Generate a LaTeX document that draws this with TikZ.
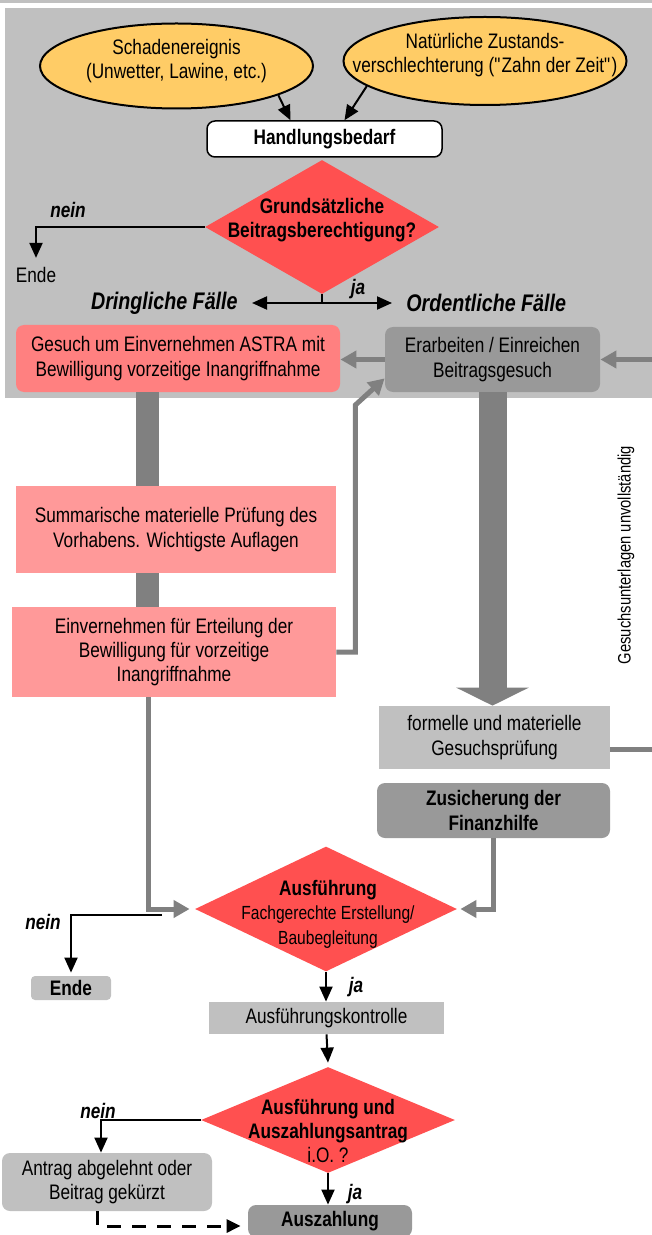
\documentclass[tikz,border=0pt]{standalone}
\usepackage{fontspec}
\setmainfont[FakeStretch=0.82]{Liberation Sans}
\usetikzlibrary{shapes.geometric,arrows.meta}

\definecolor{bggray}{HTML}{C0C0C0}
\definecolor{midgray}{HTML}{999999}
\definecolor{arrgray}{HTML}{808080}
\definecolor{ellcol}{HTML}{FFCC66}
\definecolor{diacol}{HTML}{FF5050}
\definecolor{redbox}{HTML}{FF8080}
\definecolor{pinkbox}{HTML}{FF9999}

\newcommand{\flowfont}{\fontsize{10.5}{12.2}\selectfont}
\newcommand{\smallflow}{\fontsize{9.5}{11.5}\selectfont}

\tikzset{
  ell/.style={ellipse, draw, line width=1pt, fill=ellcol, inner sep=0pt},
  box/.style={rectangle, inner sep=0pt, align=center},
  rbox/.style={box, rounded corners=4pt},
  dia/.style={diamond, fill=diacol, inner sep=0pt},
  txt/.style={align=center, inner sep=0pt},
  lbl/.style={font=\flowfont\bfseries\itshape, inner sep=0pt},
  arr/.style={line width=1pt, -{Triangle[length=7.5pt,width=6.5pt]}},
  garr/.style={draw=arrgray, line width=2.5pt, -{Triangle[length=8pt,width=8.5pt]}},
}

\begin{document}
\begin{tikzpicture}[x=0.5pt, y=-0.5pt, font=\flowfont]
      \useasboundingbox (0,0) rectangle (652,1235);
      \clip (0,0) rectangle (652,1235);
      \fill[bggray] (0,0) rectangle (652,3);
      \fill[bggray] (5,8) rectangle (652,398);

      \node[ell, minimum width=136.5pt, minimum height=42.5pt] (schaden) at (176.5,66) {};
      \node[txt] (schaden-t) at (176.5,61) {Schadenereignis\\(Unwetter, Lawine, etc.)};
      \node[ell, minimum width=141.5pt, minimum height=44pt] (zahn) at (485,61) {};
      \node[txt] (zahn-t) at (485,55) {Natürliche Zustands-\\verschlechterung (\textquotedbl Zahn der Zeit\textquotedbl)};
      \node[rbox, draw, line width=0.75pt, fill=white, minimum width=117.5pt, minimum height=18pt, font=\flowfont\bfseries] (bedarf) at (324.5,139) {Handlungsbedarf};

      \node[dia, minimum width=117pt, minimum height=67pt] (grund) at (322,227) {};
      \node[txt, font=\flowfont\bfseries] (grund-t) at (322,220) {Grundsätzliche\\Beitragsberechtigung?};
      \node[txt] (ende1) at (36,275) {Ende};
      \node[lbl] (nein1) at (68,210) {nein};
      \node[lbl] (ja1) at (358,289) {ja};
      \node[lbl, font=\fontsize{12}{14}\selectfont\bfseries\itshape, anchor=east, inner xsep=7pt] (dring) at (252,303) {Dringliche Fälle};
      \node[lbl, font=\fontsize{12}{14}\selectfont\bfseries\itshape, anchor=west, inner xsep=7pt] (ordent) at (392,303) {Ordentliche Fälle};

      \node[rbox, fill=redbox, minimum width=162pt, minimum height=33.5pt] (gesuch) at (178,358.5) {Gesuch um Einvernehmen ASTRA mit\\Bewilligung vorzeitige Inangriffnahme};
      \node[rbox, fill=midgray, minimum width=107.5pt, minimum height=32.5pt] (erarb) at (492.5,359.5) {Erarbeiten / Einreichen\\Beitragsgesuch};
      \node[box, fill=pinkbox, minimum width=162pt, minimum height=45pt] (einv) at (174,652) {Einvernehmen für Erteilung der\\Bewilligung für vorzeitige\\Inangriffnahme};
      \draw[arrgray, line width=11.5pt] ([xshift=-15.5pt]gesuch.south) -- ([xshift=-15.5pt]gesuch.south |- einv.north);
      \node[box, fill=pinkbox, minimum width=160pt, minimum height=43.5pt] (summ) at (176,529.5) {Summarische materielle Prüfung des\\Vorhabens. Wichtigste Auflagen};
      \node[box, fill=bggray, minimum width=115.5pt, minimum height=31.5pt] (formell) at (494.5,737.5) {formelle und materielle\\Gesuchsprüfung};
      \node[rbox, fill=midgray, minimum width=116.5pt, minimum height=27.5pt, font=\flowfont\bfseries] (zusich) at (493.5,810.5) {Zusicherung der\\Finanzhilfe};
      \node[rotate=90, font=\fontsize{9}{11}\selectfont] (unvoll) at (626,555) {Gesuchsunterlagen unvollständig};

      \node[dia, minimum width=131pt, minimum height=62.5pt] (ausf) at (326,909) {};
      \node[txt] (ausf-t) at (328,914) {\textbf{Ausführung}\\{\smallflow Fachgerechte Erstellung/}\\{\smallflow Baubegleitung}};
      \node[rbox, rounded corners=2pt, fill=bggray, minimum width=40pt, minimum height=12pt, font=\flowfont\bfseries] (ende2) at (71,988) {Ende};
      \node[lbl] (nein2) at (43,922) {nein};
      \node[lbl] (ja2) at (356,987) {ja};
      \node[box, fill=bggray, minimum width=117.5pt, minimum height=16pt] (kontr) at (326.5,1018) {Ausführungskontrolle};

      \node[dia, minimum width=127pt, minimum height=53pt] (auszq) at (328,1120) {};
      \node[txt] (auszq-t) at (328,1131) {\textbf{Ausführung und}\\\textbf{Auszahlungsantrag}\\i.O. ?};
      \node[rbox, fill=bggray, minimum width=105pt, minimum height=29pt] (antrag) at (107,1182) {Antrag abgelehnt oder\\Beitrag gekürzt};
      \node[rbox, fill=midgray, minimum width=82pt, minimum height=16pt, font=\flowfont\bfseries] (zahlung) at (330,1221) {Auszahlung};
      \node[lbl] (nein3) at (98,1111) {nein};
      \node[lbl] (ja3) at (355,1194) {ja};

      \draw[arr] (schaden.-16) -- ([xshift=-17pt]bedarf.north);
      \draw[arr] (zahn.-168) -- ([xshift=10pt]bedarf.north);
      \draw[arr] (grund.west) -| ([yshift=4.5pt]ende1.north);
      \draw[line width=1pt] (grund.south) -- (grund.south |- dring.east);
      \draw[line width=1pt, {Triangle[length=7.5pt,width=6.5pt]}-{Triangle[length=7.5pt,width=6.5pt]}] (dring.east) -- (ordent.west);

      \draw[garr] (erarb.west) -- (erarb.west -| gesuch.east);
      \draw[garr] ([yshift=-6pt]formell.east) -- ++(40pt,0) |- (erarb.east);
      \draw[garr] (einv.east) -- ++(9.5pt,0) -- ++(0,123.5pt) -- ([yshift=7pt]erarb.south west);
      \draw[arrgray, line width=14pt, -{Triangle[length=9pt,width=36pt]}] (erarb.south) -- (erarb.south |- formell.north);
      \draw[garr] ([xshift=-13pt]einv.south) |- ([xshift=-2.5pt]ausf.west);
      \draw[garr] (zusich.south) |- ([xshift=1.5pt]ausf.east);

      \coordinate (n2) at (162,915);
      \draw[arr] (n2) -| ([yshift=1.5pt]ende2.north);
      \draw[arr] (ausf.south) -- (ausf.south |- kontr.north);
      \draw[arr] (kontr.south) -- ([yshift=2pt]auszq.north);
      \draw[arr] (auszq.west) -| ([xshift=-3pt]antrag.north);
      \draw[arr] (auszq.south) -- (auszq.south |- zahlung.north);
      \draw[line width=1.5pt, dash pattern=on 7pt off 5.5pt, -{Triangle[length=7pt,width=6.5pt]}] ([xshift=-5pt]antrag.south) |- ([xshift=-3.5pt,yshift=-2.5pt]zahlung.west);
    \end{tikzpicture}
\end{document}
